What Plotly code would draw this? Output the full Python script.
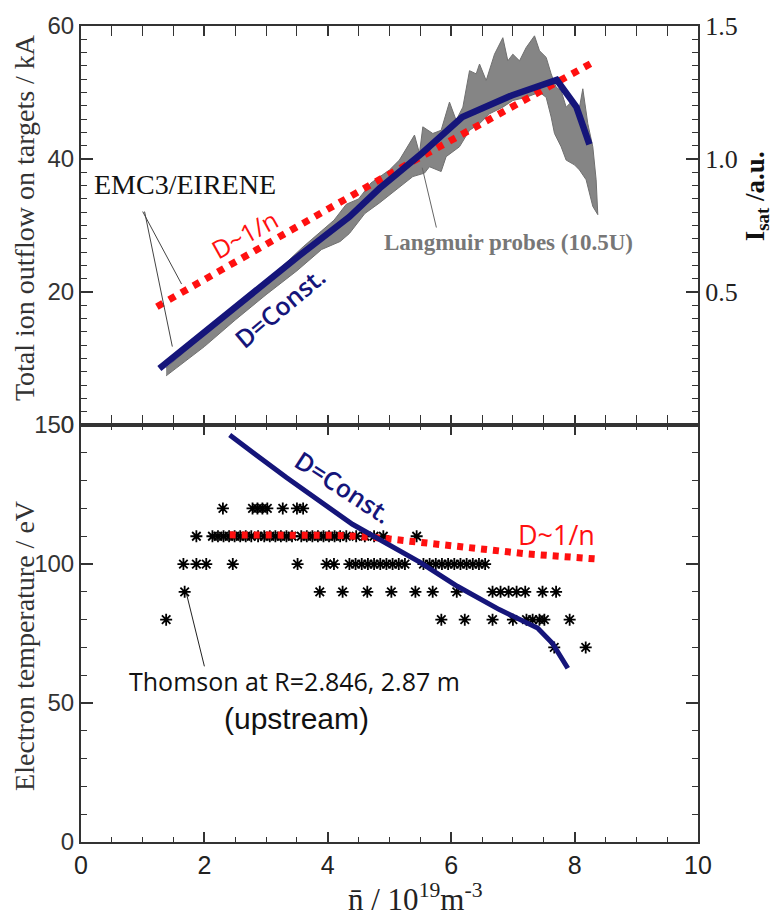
import plotly.graph_objects as go

# ---------------- data ----------------
# Top panel: total ion outflow (kA) vs line-averaged density (1e19 m^-3)
const_top_n = [1.27, 2.0, 3.0, 3.54, 4.35, 4.84, 5.53, 6.18, 6.99, 7.71, 8.03, 8.24]
const_top_I = [8.5, 14.0, 21.7, 25.5, 31.3, 35.6, 40.9, 46.3, 49.6, 51.9, 47.8, 42.2]
inv_top_n = [1.23, 4.84, 8.35]
inv_top_I = [17.8, 36.9, 54.8]

# Langmuir probe Isat (a.u.): upper and lower envelope of the noisy trace
probe_hi_n = [1.38, 2.0, 2.5, 3.0, 3.3, 3.6, 3.9, 4.1, 4.3, 4.5, 4.7, 4.84, 5.0, 5.16,
              5.405, 5.486, 5.54, 5.702, 5.837, 5.972, 6.08, 6.189, 6.297, 6.405, 6.459,
              6.567, 6.702, 6.837, 6.918, 6.999, 7.107, 7.215, 7.35, 7.431, 7.539, 7.62,
              7.701, 7.782, 7.863, 7.971, 8.052, 8.133, 8.214, 8.295, 8.349, 8.376]
probe_hi = [0.215, 0.34, 0.44, 0.54, 0.605, 0.67, 0.73, 0.77, 0.83, 0.85, 0.91, 0.934,
            0.959, 0.996, 1.09, 1.021, 1.121, 1.096, 1.108, 1.214, 1.146, 1.195, 1.332,
            1.32, 1.357, 1.295, 1.394, 1.456, 1.369, 1.394, 1.369, 1.419, 1.463, 1.407,
            1.382, 1.32, 1.27, 1.257, 1.195, 1.22, 1.158, 1.264, 1.133, 1.046, 0.922, 0.791]
probe_lo_n = [1.38, 2.0, 2.5, 3.0, 3.5, 3.9, 4.2, 4.35, 4.6, 4.838, 5.108, 5.378, 5.567,
              5.648, 5.837, 5.918, 6.134, 6.297, 6.459, 6.621, 6.837, 6.999, 7.215,
              7.431, 7.539, 7.62, 7.674, 7.782, 7.863, 7.998, 8.079, 8.187, 8.295, 8.376]
probe_lo = [0.185, 0.295, 0.395, 0.49, 0.58, 0.66, 0.69, 0.72, 0.795, 0.835, 0.884,
            0.934, 0.947, 0.971, 0.953, 1.009, 1.046, 1.108, 1.133, 1.17, 1.195, 1.22,
            1.232, 1.251, 1.232, 1.158, 1.096, 1.046, 0.996, 0.978, 0.959, 0.922, 0.822,
            0.791]

# Bottom panel: upstream electron temperature (eV)
const_bot_n = [2.41, 3.33, 4.4, 4.84, 5.49, 6.1, 6.78, 7.4, 7.64, 7.89]
const_bot_T = [146.4, 131.1, 114.3, 108.6, 100.7, 92.0, 83.6, 77.0, 71.5, 62.5]
inv_bot_n = [2.41, 4.2, 4.8, 5.5, 6.3, 7.2, 8.37]
inv_bot_T = [110.5, 110.3, 109.5, 107.8, 106.0, 103.7, 101.8]

thomson_n_70 = [7.67, 8.18]
thomson_n_80 = [1.38, 5.84, 6.22, 6.67, 7.0, 7.22, 7.32, 7.43, 7.51, 7.92]
thomson_n_90 = [1.68, 3.87, 4.24, 4.64, 5.03, 5.42, 5.7, 6.09, 6.67, 6.8, 6.93, 7.06,
                7.2, 7.48, 7.7]
thomson_n_100 = [1.66, 1.87, 2.03, 2.46, 3.51, 3.98, 4.1, 4.35, 4.45, 4.55, 4.65, 4.75,
                 4.85, 4.95, 5.05, 5.15, 5.25, 5.55, 5.65, 5.75, 5.85, 5.95, 6.05,
                 6.15, 6.25, 6.35, 6.45, 6.55]
thomson_n_110 = [1.87, 2.13, 2.22, 2.31, 2.4, 2.49, 2.58, 2.67, 2.76, 2.87, 2.97, 3.06,
                 3.15, 3.24, 3.33, 3.42, 3.57, 3.66, 3.75, 3.84, 3.93, 4.02, 4.11,
                 4.2, 4.3, 4.46, 4.6, 4.75, 4.9, 5.44]
thomson_n_120 = [2.3, 2.78, 2.86, 2.94, 3.02, 3.27, 3.5, 3.6]
thomson_levels = [70, 80, 90, 100, 110, 120]

x_ticks = [0, 2, 4, 6, 8, 10]
top_ticks = [0, 20, 40, 60]
right_ticks = [0.5, 1.0, 1.5]
bot_ticks = [0, 50, 100, 150]

KA_RANGE = [0, 60]
AU_RANGE = [0, 1.5]

# ---------------- style ----------------
NAVY = "#15157a"
RED = "#ff1010"
GRAY = "#858585"
AX = "#333333"
SERIF = "Liberation Serif, Times New Roman, serif"
TICKF = "Liberation Sans, Arial, sans-serif"
SANS = "Open Sans, Noto Sans, sans-serif"

fig = go.Figure()

# probe band: a.u. values mapped onto the kA axis so it sits below the model curves
au_to_ka = KA_RANGE[1] / AU_RANGE[1]
band_x = probe_hi_n + probe_lo_n[::-1]
band_y = [v * au_to_ka for v in probe_hi + probe_lo[::-1]]
fig.add_trace(go.Scatter(x=band_x, y=band_y, xaxis="x2", yaxis="y2", mode="lines",
                         fill="toself", fillcolor=GRAY, line=dict(color="#707070", width=1),
                         hoverinfo="skip", showlegend=False))

fig.add_trace(go.Scatter(x=inv_top_n, y=inv_top_I, xaxis="x2", yaxis="y2", mode="lines",
                         line=dict(color=RED, width=7, dash="7px,7px"), showlegend=False))
fig.add_trace(go.Scatter(x=const_top_n, y=const_top_I, xaxis="x2", yaxis="y2", mode="lines",
                         line=dict(color=NAVY, width=6.5), showlegend=False))
# empty trace so the right-hand Isat axis is created
fig.add_trace(go.Scatter(x=[], y=[], xaxis="x2", yaxis="y3", mode="lines",
                         hoverinfo="skip", showlegend=False))

# bottom panel
tx, ty = [], []
for lev, arr in zip(thomson_levels, [thomson_n_70, thomson_n_80, thomson_n_90,
                                     thomson_n_100, thomson_n_110, thomson_n_120]):
    tx += arr
    ty += [lev] * len(arr)
fig.add_trace(go.Scatter(x=tx, y=ty, xaxis="x", yaxis="y", mode="markers",
                         marker=dict(symbol="asterisk-open", size=10, color="black",
                                     line=dict(color="black", width=1.8)),
                         showlegend=False))
fig.add_trace(go.Scatter(x=inv_bot_n, y=inv_bot_T, xaxis="x", yaxis="y", mode="lines",
                         line=dict(color=RED, width=7, dash="6px,6px"), showlegend=False))
fig.add_trace(go.Scatter(x=const_bot_n, y=const_bot_T, xaxis="x", yaxis="y", mode="lines",
                         line=dict(color=NAVY, width=5), showlegend=False))

split = 420 / 822

common_x = dict(range=[0, 10], tickvals=x_ticks, ticks="inside", ticklen=10, tickwidth=1.5,
                tickcolor=AX, showline=True, linecolor=AX, linewidth=2, mirror="allticks",
                showgrid=False, zeroline=False,
                minor=dict(dtick=0.5, ticks="inside", ticklen=5, tickwidth=1.2, tickcolor=AX))

fig.update_layout(
    width=783, height=920,
    margin=dict(l=81, r=85, t=20, b=78),
    paper_bgcolor="white", plot_bgcolor="white",
    xaxis=dict(**common_x, anchor="y", domain=[0, 1],
               tickfont=dict(family=TICKF, size=25, color="#222")),
    yaxis=dict(range=[0, 150], domain=[0, split], tickvals=bot_ticks, ticks="inside",
               ticklen=12, tickwidth=1.5, tickcolor=AX, showline=True, linecolor=AX,
               linewidth=2, mirror="allticks", showgrid=False, zeroline=False,
               tickfont=dict(family=TICKF, size=24, color="#333"), anchor="x",
               minor=dict(dtick=10, ticks="inside", ticklen=6, tickwidth=1.2, tickcolor=AX)),
    xaxis2=dict(**common_x, anchor="y2", domain=[0, 1], showticklabels=False),
    yaxis2=dict(range=KA_RANGE, domain=[split, 1], tickvals=top_ticks, ticks="inside",
                ticklen=12, tickwidth=1.5, tickcolor=AX, showline=True, linecolor=AX,
                linewidth=2, mirror=True, showgrid=False, zeroline=False, anchor="x2",
                tickfont=dict(family=TICKF, size=24, color="#333"),
                minor=dict(dtick=2, ticks="inside", ticklen=6, tickwidth=1.2, tickcolor=AX)),
    yaxis3=dict(range=AU_RANGE, overlaying="y2", side="right", anchor="x2",
                tickvals=right_ticks, ticktext=["0.5", "1.0", "1.5"], ticks="inside",
                ticklen=12, tickwidth=1.5, tickcolor=AX, showline=True, linecolor=AX,
                linewidth=2, showgrid=False, zeroline=False,
                tickfont=dict(family=SERIF, size=26, color="#222"),
                minor=dict(dtick=0.05, ticks="inside", ticklen=6, tickwidth=1.2, tickcolor=AX)),
)


def note(text, x, y, xref, yref, font, angle=0):
    return dict(text=text, x=x, y=y, xref=xref, yref=yref, textangle=angle,
                xanchor="center", yanchor="middle", showarrow=False, font=font)


ann = [
    note("Total ion outflow on targets / kA", -0.0916, (842 - 213) / 822, "paper", "paper",
         dict(family=SERIF, size=28, color="#333"), -90),
    note("Electron temperature / eV", -0.0916, (842 - 644) / 822, "paper", "paper",
         dict(family=SERIF, size=28, color="#333"), -90),
    note("<b>I<sub>sat</sub> /a.u.</b>", (757 - 81.5) / 617, (842 - 192) / 822, "paper",
         "paper", dict(family=SERIF, size=27, color="#111"), -90),
    note("n\u0304 / 10<sup>19</sup>m<sup>-3</sup>", (416 - 81.5) / 617, (842 - 898) / 822,
         "paper", "paper", dict(family=SERIF, size=31, color="#222")),
    note("EMC3/EIRENE", 1.68, 36.1, "x2", "y2", dict(family=SERIF, size=28, color="#111")),
    note("D~1/n", 2.65, 28.7, "x2", "y2", dict(family=SANS, size=25, color=RED), -29),
    note("D=Const.", 3.22, 17.8, "x2", "y2",
         dict(family=SANS, size=25, color=NAVY, weight=600), -40),
    note("<b>Langmuir probes (10.5U)</b>", 6.93, 27.5, "x2", "y2",
         dict(family=SERIF, size=23, color="#777")),
    note("D=Const.", 4.26, 127.6, "x", "y",
         dict(family=SANS, size=25, color=NAVY, weight=600), 33),
    note("D~1/n", 7.71, 110.7, "x", "y", dict(family=SANS, size=27, color=RED)),
    note("Thomson at R=2.846, 2.87 m", 3.46, 57.9, "x", "y",
         dict(family=SANS, size=25, color="#111")),
    note("(upstream)", 3.5, 44.3, "x", "y", dict(family=TICKF, size=30, color="#111")),
]
fig.update_layout(annotations=ann)

shapes = [
    dict(type="line", xref="x2", yref="y2", x0=1.0, y0=32.1, x1=1.63, y1=21.2,
         line=dict(color="#444", width=1)),
    dict(type="line", xref="x2", yref="y2", x0=1.03, y0=32.1, x1=1.48, y1=11.8,
         line=dict(color="#444", width=1)),
    dict(type="line", xref="x2", yref="y2", x0=5.76, y0=29.7, x1=5.53, y1=38.7,
         line=dict(color="#666", width=1)),
    dict(type="line", xref="x", yref="y", x0=1.71, y0=89.3, x1=2.0, y1=63.2,
         line=dict(color="#222", width=1)),
]
fig.update_layout(shapes=shapes)

fig.write_html("out.html")
